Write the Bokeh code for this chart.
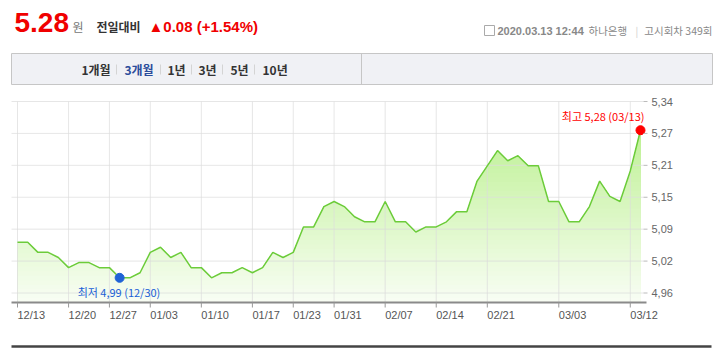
import numpy as np
from bokeh.plotting import figure
from bokeh.models import Range1d, Label
from bokeh.core.properties import value
from bokeh.embed import file_html
from bokeh.resources import INLINE

# ---------------- data ----------------
dates = ["12/13", "12/16", "12/17", "12/18", "12/19", "12/20",
         "12/23", "12/24", "12/26", "12/27",
         "12/30", "12/31", "01/02", "01/03",
         "01/06", "01/07", "01/08", "01/09", "01/10",
         "01/13", "01/14", "01/15", "01/16", "01/17",
         "01/20", "01/21", "01/22", "01/23",
         "01/28", "01/29", "01/30", "01/31",
         "02/03", "02/04", "02/05", "02/06", "02/07",
         "02/10", "02/11", "02/12", "02/13", "02/14",
         "02/17", "02/18", "02/19", "02/20", "02/21",
         "02/24", "02/25", "02/26", "02/27", "02/28",
         "03/02", "03/03", "03/04", "03/05", "03/06",
         "03/09", "03/10", "03/11", "03/12", "03/13"]
rates = [5.06, 5.06, 5.04, 5.04, 5.03, 5.01,
         5.02, 5.02, 5.01, 5.01,
         4.99, 4.99, 5.00, 5.04,
         5.05, 5.03, 5.04, 5.01, 5.01,
         4.99, 5.00, 5.00, 5.01, 5.00,
         5.01, 5.04, 5.03, 5.04,
         5.09, 5.09, 5.13, 5.14,
         5.13, 5.11, 5.10, 5.10, 5.14,
         5.10, 5.10, 5.08, 5.09, 5.09,
         5.10, 5.12, 5.12, 5.18, 5.21,
         5.24, 5.22, 5.23, 5.21, 5.21,
         5.14, 5.14, 5.10, 5.10, 5.13,
         5.18, 5.15, 5.14, 5.20, 5.28]
x_tick_labels = ["12/13", "12/20", "12/27", "01/03", "01/10", "01/17", "01/23",
                 "01/31", "02/07", "02/14", "02/21", "03/03", "03/12"]
y_tick_labels = ["4,96", "5,02", "5,09", "5,15", "5,21", "5,27", "5,34"]

price_text = "5.28"
unit_text = "원"
cmp_text = "전일대비"
change_text = "▲0.08 (+1.54%)"
stamp_text = "2020.03.13 12:44"
bank_text = "하나은행"
round_text = "고시회차 349회"
tab_labels = ["1개월", "3개월", "1년", "3년", "5년", "10년"]
active_tab = "3개월"

KR = value("Noto Sans CJK KR")
LAT = value("Liberation Sans")
W, H = 722, 363

# ---------------- scales ----------------
# chart plotting area on the page (pixels)
C_LEFT, C_RIGHT, C_TOP, C_BOTTOM = 11, 643, 101, 302
PX_PER_IDX = 10.213          # horizontal scale: pixels per trading day
PX_PER_UNIT = 509.0          # vertical scale: pixels per 1.00 of rate
FIRST_X = 17                 # page x of first trading day
TOP_VAL = 5.3364             # rate at the top edge of plotting area

x_rng = Range1d(-FIRST_X / PX_PER_IDX, (W - FIRST_X) / PX_PER_IDX)
y_rng = Range1d(TOP_VAL - (H - C_TOP) / PX_PER_UNIT, TOP_VAL + C_TOP / PX_PER_UNIT)
y_bottom = TOP_VAL - (C_BOTTOM - C_TOP) / PX_PER_UNIT

p = figure(width=W, height=H, x_range=x_rng, y_range=y_rng,
           output_backend="svg", toolbar_location=None, min_border=0,
           x_axis_type=None, y_axis_type=None)
p.grid.visible = False
p.outline_line_color = None
p.extra_x_ranges = {"px": Range1d(0, W)}
p.extra_y_ranges = {"py": Range1d(H, 0)}


def ptext(x, y, text, font, size, color, bold=False, align="left"):
    p.text(x=[x], y=[y], text=[text], text_font=font, text_font_size=size,
           text_color=color, text_font_style="bold" if bold else "normal",
           text_align=align, text_baseline="middle",
           x_range_name="px", y_range_name="py")


# ---------------- header ----------------
ptext(14, 22, price_text, LAT, "28px", "#f00000", bold=True)
ptext(72, 26, unit_text, KR, "12px", "#777777")
ptext(96, 26, cmp_text, KR, "12px", "#333333", bold=True)
ptext(148, 26, change_text, LAT, "15px", "#f00000", bold=True)

p.quad(left=[484], right=[494], top=[25], bottom=[35], fill_color=None,
       line_color="#aaaaaa", x_range_name="px", y_range_name="py")
ptext(497, 30, stamp_text, LAT, "11px", "#888888", bold=True)
ptext(588, 30, bank_text, KR, "10.5px", "#888888")
ptext(635, 30, "|", KR, "10px", "#cccccc")
ptext(712, 30, round_text, KR, "10.5px", "#888888", align="right")

# tab bar
p.quad(left=[11], right=[712], top=[53], bottom=[84], fill_color="#f0f1f5",
       line_color="#c6c6c6", x_range_name="px", y_range_name="py")
p.segment(x0=[361], y0=[53], x1=[361], y1=[84], line_color="#c6c6c6",
          x_range_name="px", y_range_name="py")
tab_x = [81, 124, 167, 198, 230, 262]
sep_x = [116, 160, 191, 222, 254]
p.text(x=tab_x, y=[69] * len(tab_x), text=tab_labels, text_font=KR,
       text_font_size="12px", text_font_style="bold",
       text_color=["#2b4c9b" if t == active_tab else "#333333" for t in tab_labels],
       text_baseline="middle", x_range_name="px", y_range_name="py")
p.segment(x0=sep_x, y0=[64] * 5, x1=sep_x, y1=[74] * 5, line_color="#d4d4d4",
          x_range_name="px", y_range_name="py")

# footer rule
p.segment(x0=[11], y0=[346], x1=[711], y1=[346], line_color="#444444", line_width=2.5,
          x_range_name="px", y_range_name="py")

# ---------------- chart ----------------
idx = np.arange(len(rates))
vals = np.array(rates)
x_tick_pos = [dates.index(d) for d in x_tick_labels]
y_ticks = list(np.linspace(y_bottom + 9.5 / PX_PER_UNIT, TOP_VAL, len(y_tick_labels)))

# gradient fill under the line (stacked bands, top colour first)
dense_x = np.linspace(0, len(rates) - 1, (len(rates) - 1) * 20 + 1)
dense_v = np.interp(dense_x, idx, vals)
top_c = np.array([182, 239, 135])
bot_c = np.array([250, 254, 246])
n_bands = 45
for hi in np.linspace(TOP_VAL, y_bottom, n_bands, endpoint=False):
    t = (hi - y_bottom) / (TOP_VAL - y_bottom)
    c = (bot_c + (top_c - bot_c) * t).astype(int)
    p.varea(x=dense_x, y1=np.full_like(dense_x, y_bottom), y2=np.minimum(dense_v, hi),
            fill_color="#%02x%02x%02x" % tuple(c), fill_alpha=1.0)

# grid lines (over the fill, light)
p.segment(x0=x_tick_pos, y0=[C_TOP] * len(x_tick_pos), x1=x_tick_pos,
          y1=[C_BOTTOM] * len(x_tick_pos), line_color="#dcdcdc", line_alpha=0.7,
          y_range_name="py")
p.segment(x0=[C_LEFT] * len(y_ticks), y0=y_ticks, x1=[C_RIGHT] * len(y_ticks), y1=y_ticks,
          line_color="#dcdcdc", line_alpha=0.7, x_range_name="px")

# data line and extremes
p.line(idx, vals, line_color="#6ccc3a", line_width=1.5)
i_max = int(np.argmax(vals))
i_min = int(np.argmin(vals))
p.scatter([i_max], [vals[i_max]], size=9, fill_color="#ff0000", line_color="#ff0000")
p.scatter([i_min], [vals[i_min]], size=9, fill_color="#1f63d6", line_color="#1f63d6")

fmt = lambda v: f"{v:.2f}".replace(".", ",")
p.add_layout(Label(x=i_max, y=vals[i_max], x_offset=4, y_offset=14,
                   text=f"최고 {fmt(vals[i_max])} ({dates[i_max]})",
                   text_font="Noto Sans CJK KR", text_font_size="11px", text_color="#ff0000",
                   text_align="right", text_baseline="middle"))
p.add_layout(Label(x=i_min, y=vals[i_min], x_offset=-42, y_offset=-14,
                   text=f"최저 {fmt(vals[i_min])} ({dates[i_min]})",
                   text_font="Noto Sans CJK KR", text_font_size="11px", text_color="#1a5fd6",
                   text_align="left", text_baseline="middle"))

# x axis (line, ticks, labels left-aligned at each tick)
p.segment(x0=[C_LEFT], y0=[C_BOTTOM], x1=[C_RIGHT + 3], y1=[C_BOTTOM], line_color="#8a8a8a",
          line_width=2, x_range_name="px", y_range_name="py")
p.segment(x0=x_tick_pos, y0=[C_BOTTOM] * len(x_tick_pos), x1=x_tick_pos,
          y1=[C_BOTTOM + 5] * len(x_tick_pos), line_color="#999999", y_range_name="py")
p.text(x=x_tick_pos, y=[C_BOTTOM + 12] * len(x_tick_pos), text=x_tick_labels,
       text_font=LAT, text_font_size="11px", text_color="#555555",
       text_align="left", text_baseline="middle", y_range_name="py")

# y axis on the right (ticks + labels)
p.segment(x0=[C_RIGHT] * len(y_ticks), y0=y_ticks, x1=[C_RIGHT + 4] * len(y_ticks), y1=y_ticks,
          line_color="#bbbbbb", x_range_name="px")
p.text(x=[C_RIGHT + 8] * len(y_ticks), y=y_ticks, text=y_tick_labels,
       text_font=LAT, text_font_size="11px", text_color="#666666",
       text_align="left", text_baseline="middle", x_range_name="px")

open("out.html", "w").write(file_html(p, INLINE))
